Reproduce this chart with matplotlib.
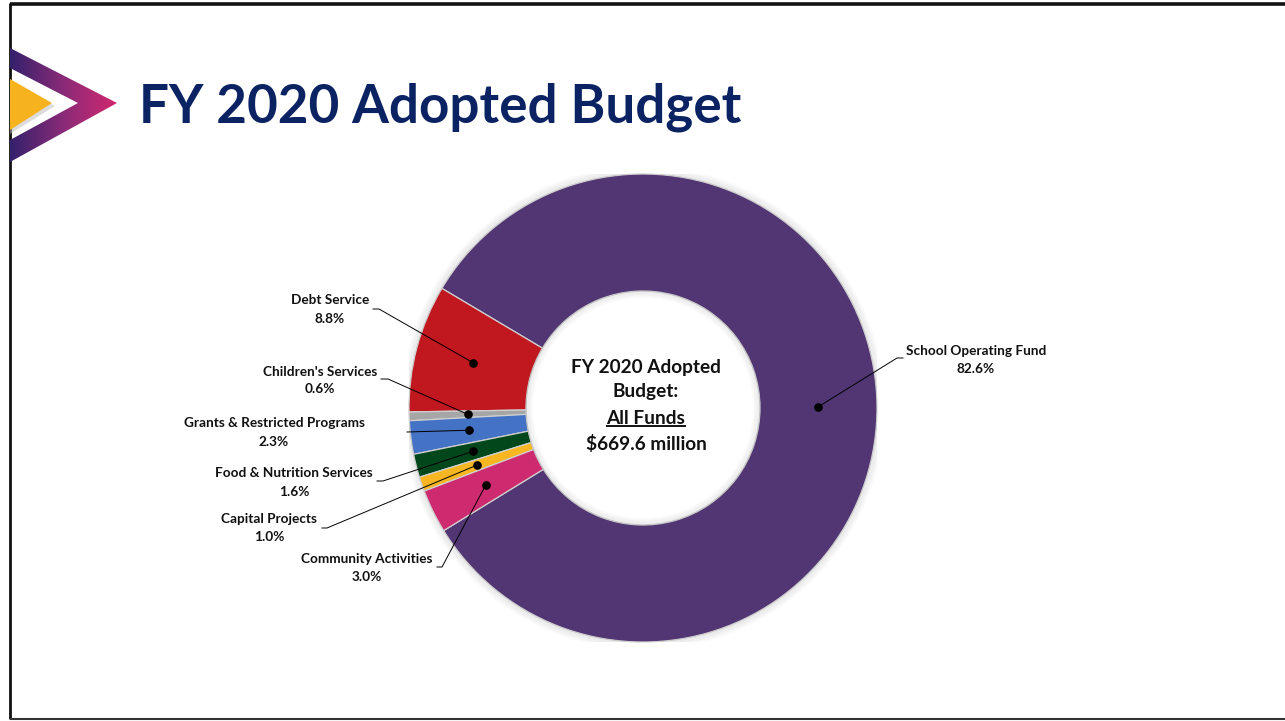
import numpy as np
import matplotlib
matplotlib.use("Agg")
import matplotlib.pyplot as plt
from matplotlib.patches import Polygon, Circle
from matplotlib.path import Path
from matplotlib.colors import LinearSegmentedColormap

# ---- data -------------------------------------------------------------
categories = ["School Operating Fund", "Debt Service", "Children's Services",
              "Grants & Restricted Programs", "Food & Nutrition Services",
              "Capital Projects", "Community Activities"]
shares = [82.6, 8.8, 0.6, 2.3, 1.6, 1.0, 3.0]
colors = ["#523573", "#c1181f", "#a6a6a6", "#4472c4", "#00471b", "#f8b622", "#cd2a6f"]
center_lines = ["FY 2020 Adopted", "Budget:", "All Funds", "$669.6 million"]
title = "FY 2020 Adopted Budget"

FONT = "Lato"
W, H = 1285, 721
fig = plt.figure(figsize=(W / 100, H / 100), dpi=100)
fig.patch.set_facecolor("white")

# pie placement (pixels, y measured from top)
CX, CY, R = 643, 408, 234
ax_pie = fig.add_axes([(CX - R) / W, (H - CY - R) / H, 2 * R / W, 2 * R / H])
ax_pie.set_facecolor("none")
wedges, _ = ax_pie.pie(shares, colors=colors, startangle=211.6, counterclock=True,
                       radius=1.0, wedgeprops=dict(width=0.5, edgecolor="#d0d0d0",
                                                   linewidth=0.9))
# soft shading around the ring
for k in range(8):
    ax_pie.add_patch(Circle((0, 0), 0.5 - 0.004 * k, fill=False,
                            edgecolor="#808080", alpha=0.10 * (1 - k / 8), lw=1.2))
    ax_pie.add_patch(Circle((0, 0), 1.0 + 0.004 * (k + 1), fill=False,
                            edgecolor="#808080", alpha=0.10 * (1 - k / 8), lw=1.2))
ax_pie.set_xlim(-1, 1)
ax_pie.set_ylim(-1, 1)
ax_pie.axis("off")

# overlay in pixel coordinates
ax = fig.add_axes([0, 0, 1, 1], zorder=5)
ax.set_xlim(0, W)
ax.set_ylim(H, 0)
ax.axis("off")
ax.set_facecolor("none")


def pie_to_px(x, y):
    return CX + R * x, CY - R * y


# slide frame
ax.plot([9.5, 9.5], [3, 719], color="#111111", lw=2.0, solid_capstyle="butt")
ax.plot([9.5, W], [3.5, 3.5], color="#111111", lw=2.6, solid_capstyle="butt")
ax.plot([9.5, W], [719, 719], color="#333333", lw=1.5, solid_capstyle="butt")

# chevron logo with gradient fill
outer = [(10, 48), (117, 103), (10, 162)]
inner = [(10, 68), (78, 103), (10, 140)]
verts = outer + [outer[0]] + inner[::-1] + [inner[-1]]
codes = ([Path.MOVETO, Path.LINETO, Path.LINETO, Path.CLOSEPOLY] +
         [Path.MOVETO, Path.LINETO, Path.LINETO, Path.CLOSEPOLY])
clip = matplotlib.patches.PathPatch(Path(verts, codes), facecolor="none",
                                    edgecolor="none", transform=ax.transData)
ax.add_patch(clip)
cmap = LinearSegmentedColormap.from_list("chev", ["#33206b", "#8a2b78", "#d2286f"])
grad = np.linspace(0, 1, 256).reshape(1, -1)
im = ax.imshow(grad, cmap=cmap, extent=(10, 117, 162, 48), aspect="auto", zorder=2)
im.set_clip_path(clip)
ax.set_xlim(0, W)
ax.set_ylim(H, 0)
# shadow and yellow triangle
ax.add_patch(Polygon([(10, 82), (55, 106), (10, 134)], closed=True,
                     facecolor="#bbbbbb", edgecolor="none", alpha=0.5, zorder=2))
ax.add_patch(Polygon([(10, 79), (52, 103), (10, 130)], closed=True,
                     facecolor="#f6b31e", edgecolor="none", zorder=3))

# title
ax.text(139, 123, title, fontsize=38.2, fontweight="bold", color="#0b2362",
        family=FONT, ha="left", va="baseline")

# labels: (text center x, name y, pct y, leader path from label end)
label_layout = [
    (976, 351, 369, [(903, 358), (897, 358)]),
    (330, 300, 319, [(373, 309), (379, 309)]),
    (320, 372, 389, [(381, 379), (388, 379)]),
    (274, 423, 442, [(407, 432)]),
    (294, 473, 492, [(377, 481), (383, 481)]),
    (269, 519, 537, [(322, 528), (327, 528)]),
    (367, 559, 577, [(437, 567), (442, 567)]),
]

for w, name, val, (tx, ny, py, path) in zip(wedges, categories, shares, label_layout):
    mid = np.deg2rad((w.theta1 + w.theta2) / 2)
    dx, dy = pie_to_px(0.75 * np.cos(mid), 0.75 * np.sin(mid))
    xs = [p[0] for p in path] + [dx]
    ys = [p[1] for p in path] + [dy]
    ax.plot(xs, ys, color="black", lw=0.7, zorder=6)
    ax.plot(dx, dy, "o", color="black", ms=5.2, zorder=7)
    ax.text(tx, ny, name, fontsize=9.8, fontweight="bold", family=FONT,
            ha="center", va="center", color="#111111")
    ax.text(tx, py, f"{val:.1f}%", fontsize=9.8, fontweight="bold", family=FONT,
            ha="center", va="center", color="#111111")

# centre text
center_y = [367, 392, 418, 444]
fig.canvas.draw()
renderer = fig.canvas.get_renderer()
for i, (line, y) in enumerate(zip(center_lines, center_y)):
    t = ax.text(646, y, line, fontsize=13.7, fontweight="bold", family=FONT,
                ha="center", va="center", color="#111111")
    if line == "All Funds":
        bb = t.get_window_extent(renderer=renderer)
        x0 = bb.x0
        x1 = bb.x1
        yb = H - bb.y0 - 1
        ax.plot([x0, x1], [yb, yb], color="#111111", lw=1.4)

fig.savefig("out.png", dpi=100, facecolor="white")
